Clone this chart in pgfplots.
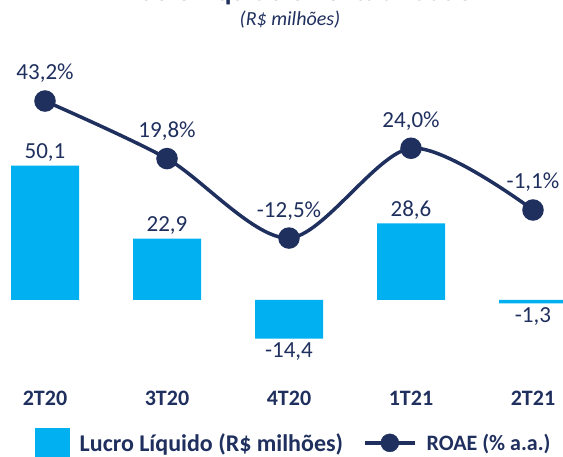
\documentclass[border=0pt]{standalone}
\usepackage{pgfplots}
\pgfplotsset{compat=1.18}
\usepackage{fontspec}
\setmainfont{Carlito}
\definecolor{barcyan}{HTML}{00B0F0}
\definecolor{navy}{HTML}{1F2F5E}

\begin{document}
\begin{tikzpicture}
  \path[use as bounding box, clip] (0pt,0pt) rectangle (563pt,-457pt);
  % titulo (cortado no topo)
  \node[anchor=base, font=\fontsize{28}{30}\selectfont\bfseries, text=navy] at (300pt,-0.3pt) {Lucro Líquido e Rentabilidade};
  \node[font=\fontsize{20}{22}\selectfont\itshape, text=navy] at (290pt,-20pt) {(R\$ milhões)};

  % lucro liquido (barras)
  \begin{axis}[
    at={(0pt,-375pt)}, anchor=south west,
    scale only axis, width=563pt, height=335pt,
    xmin=-0.3689, xmax=4.2459,
    ymin=-27.99, ymax=97.01,
    axis x line=bottom, axis y line=none,
    x axis line style={draw=none},
    major tick length=0pt,
    xtick={0,1,2,3,4},
    xticklabels={2T20,3T20,4T20,1T21,2T21},
    xticklabel style={font=\fontsize{22}{24}\selectfont\bfseries, text=navy, yshift=-13pt},
    ybar, bar width=68pt,
    nodes near coords, point meta=y,
    /pgf/number format/.cd, use comma, fixed, fixed zerofill, precision=1, assume math mode=true,
    /pgfplots/.cd,
    every node near coord/.append style={font=\fontsize{23}{25}\selectfont, text=navy, inner sep=4pt},
    legend columns=2,
    legend cell align=left,
    legend style={draw=none, fill=none, at={(axis description cs:0.056,-0.21)}, anchor=west,
      font=\bfseries, text=navy,
      /tikz/every odd column/.append style={column sep=8pt},
      /tikz/every even column/.append style={column sep=18pt}},
  ]
    \addplot[fill=barcyan, draw=none,
      legend image code/.code={\fill[barcyan] (0pt,-20pt) rectangle (35pt,15pt);}]
      coordinates {(0,50.1) (1,22.9) (2,-14.4) (3,28.6) (4,-1.3)};
    \addlegendentry{\fontsize{24}{26}\selectfont Lucro Líquido (R\$ milhões)}
    \addlegendimage{legend image code/.code={
      \draw[navy, line width=3.5pt] (0pt,0pt) -- (50pt,0pt);
      \fill[navy] (25pt,0pt) circle (9pt);}}
    \addlegendentry{\fontsize{22}{24}\selectfont ROAE (\% a.a.)}
  \end{axis}

  % ROAE (linha)
  \begin{axis}[
    at={(0pt,-375pt)}, anchor=south west,
    scale only axis, width=563pt, height=335pt,
    xmin=-0.3689, xmax=4.2459,
    ymin=-68.17, ymax=68.01,
    axis lines=none,
    clip=false,
    nodes near coords={\pgfmathprintnumber{\pgfplotspointmeta}\%}, point meta=y,
    /pgf/number format/.cd, use comma, fixed, fixed zerofill, precision=1, assume math mode=true,
    /pgfplots/.cd,
    every node near coord/.append style={font=\fontsize{23}{25}\selectfont, text=navy, anchor=south, yshift=13pt},
  ]
    \addplot[navy, line width=3.5pt, smooth, mark=*, mark size=9pt, mark options={fill=navy}]
      coordinates {(0,43.2) (1,19.8) (2,-12.5) (3,24.0) (4,-1.1)};
  \end{axis}
\end{tikzpicture}
\end{document}
